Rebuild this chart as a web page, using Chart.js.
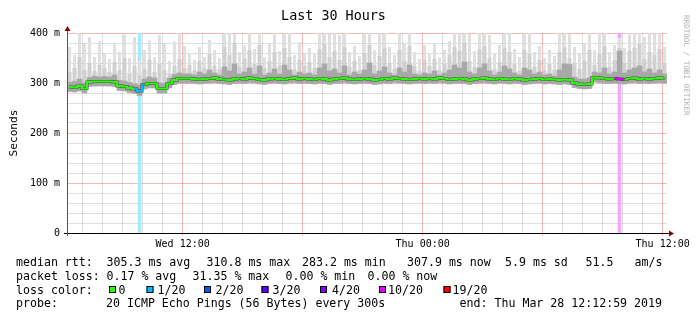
<!DOCTYPE html>
<html>
<head>
<meta charset="utf-8">
<script src="https://cdn.jsdelivr.net/npm/chart.js@4.4.1/dist/chart.umd.min.js"></script>
<style>
    html, body { margin: 0; padding: 0; background: #ffffff; }
    canvas { display: block; }
</style>
</head>
<body>
<canvas id="ChartCanvas" width="697" height="321"></canvas>
<script>
// 15 minute bins over the last 30 hours, first bin starts Wed 06:12:59 (hours since Wed 00:00)
const startHour = 6 + 12.98 / 60;
const binStep   = 0.25;

// median rtt in ms
const median = [
    292, 291, 294, 289, 302, 303, 303, 303, 303, 302, 294, 293, 290, 288, 284, 297, 299, 299, 289, 289, 299, 306, 309, 309,
    309, 308, 307, 308, 309, 310, 308, 307, 306, 308, 309, 308, 310, 309, 307, 306, 308, 309, 308, 307, 309, 310, 308, 309,
    308, 307, 309, 308, 306, 308, 309, 310, 308, 307, 308, 309, 308, 306, 307, 309, 308, 310, 309, 308, 307, 308, 309, 308,
    309, 308, 310, 309, 307, 308, 309, 308, 306, 308, 309, 310, 308, 307, 309, 308, 307, 309, 308, 306, 307, 308, 309, 307,
    308, 307, 306, 307, 306, 300, 298, 297, 298, 311, 310, 309, 308, 309, 308, 307, 309, 310, 308, 309, 308, 309, 310, 309
];

// bottom edge of the smoke
const smokeMin = [
    283, 282, 284, 280, 293, 294, 294, 294, 294, 293, 285, 284, 281, 279, 275, 288, 290, 290, 280, 280, 290, 297, 300, 300,
    300, 299, 298, 299, 300, 301, 299, 298, 297, 299, 300, 299, 301, 300, 298, 297, 299, 300, 299, 298, 300, 301, 299, 300,
    299, 298, 300, 299, 297, 299, 300, 301, 299, 298, 299, 300, 299, 297, 298, 300, 299, 301, 300, 299, 298, 299, 300, 299,
    300, 299, 301, 300, 298, 299, 300, 299, 297, 299, 300, 301, 299, 298, 300, 299, 298, 300, 299, 297, 298, 299, 300, 298,
    299, 298, 297, 298, 297, 291, 289, 288, 289, 302, 301, 300, 299, 300, 299, 298, 300, 301, 299, 300, 299, 300, 301, 300
];

// top of the dark smoke right above the median
const smokeDark = [
    301, 303, 308, 300, 311, 314, 312, 313, 312, 316, 305, 304, 301, 298, 296, 308, 312, 310, 300, 299, 310, 317, 320, 318,
    318, 316, 322, 318, 326, 320, 316, 332, 324, 338, 318, 322, 330, 318, 334, 316, 320, 328, 318, 336, 326, 316, 322, 318,
    320, 316, 330, 338, 324, 328, 320, 334, 316, 322, 318, 326, 340, 318, 324, 332, 320, 316, 330, 322, 336, 318, 316, 320,
    318, 324, 316, 320, 326, 336, 330, 342, 322, 318, 330, 338, 324, 316, 322, 334, 328, 320, 316, 330, 326, 318, 322, 316,
    318, 314, 326, 338, 337, 312, 308, 308, 310, 322, 320, 330, 318, 322, 364, 320, 326, 330, 334, 322, 328, 320, 326, 318
];

// top of the mid grey smoke
const smokeUpper = [
    322, 330, 352, 326, 340, 324, 336, 330, 322, 342, 326, 350, 318, 334, 316, 328, 346, 322, 338, 326, 318, 334, 348, 330,
    336, 326, 344, 330, 358, 334, 328, 372, 356, 380, 332, 348, 366, 338, 376, 330, 344, 362, 334, 370, 352, 328, 346, 334,
    342, 330, 368, 378, 352, 364, 346, 372, 332, 344, 326, 360, 376, 336, 354, 370, 340, 328, 366, 344, 374, 334, 324, 346,
    334, 348, 326, 338, 356, 372, 364, 380, 344, 332, 368, 374, 350, 328, 342, 370, 362, 338, 324, 366, 358, 332, 346, 326,
    338, 326, 362, 372, 350, 340, 328, 344, 366, 336, 358, 374, 332, 346, 370, 340, 364, 370, 378, 348, 362, 356, 368, 340
];

// top of the light smoke (slowest pings)
const smokeMax = [
    372, 356, 400, 380, 392, 352, 384, 360, 348, 381, 362, 397, 350, 392, 345, 366, 385, 352, 396, 378, 344, 383, 400, 374,
    358, 346, 372, 352, 386, 366, 350, 400, 400, 398, 362, 375, 400, 368, 400, 352, 378, 400, 364, 400, 400, 356, 382, 360,
    370, 358, 400, 400, 398, 400, 396, 400, 362, 374, 354, 400, 400, 366, 400, 400, 372, 356, 400, 380, 400, 362, 348, 376,
    360, 378, 352, 366, 384, 400, 400, 400, 398, 364, 400, 400, 396, 358, 376, 400, 400, 368, 352, 400, 400, 362, 374, 350,
    366, 354, 400, 400, 398, 372, 358, 380, 400, 366, 400, 400, 362, 376, 390, 370, 400, 400, 400, 392, 400, 398, 400, 372
];

// bins with lost pings (out of 20)
const lossBins   = [14, 110];
const lossCounts = [1, 10];

const lossSteps  = [0, 1, 2, 3, 4, 10, 19];
const lossLabels = ['0', '1/20', '2/20', '3/20', '4/20', '10/20', '19/20'];
const lossColors = ['#26ff00', '#00b8ff', '#0059ff', '#5e00ff', '#7e00ff', '#dd00ff', '#ff0000'];
const lossBands  = ['#ffffff', '#a6eaff', '#a6c8ff', '#cfa6ff', '#d8a6ff', '#f3a6ff', '#ffa6a6'];

const xTickLabels = { 12: 'Wed 12:00', 24: 'Thu 00:00', 36: 'Thu 12:00' };
const yTickLabels = { 0: '0', 100: '100 m', 200: '200 m', 300: '300 m', 400: '400 m' };

const statLines = [
    [['median rtt:', 16], ['305.3 ms avg', 106.5], ['310.8 ms max', 206.5], ['283.2 ms min', 302], ['307.9 ms now', 407], ['5.9 ms sd', 505], ['51.5', 585.5], ['am/s', 634.5]],
    [['packet loss:', 16], ['0.17 % avg', 106.5], ['31.35 % max', 192.5], ['0.00 % min', 285.5], ['0.00 % now', 367.5]],
    [['loss color:', 16]],
    [['probe:', 16], ['20 ICMP Echo Pings (56 Bytes) every 300s', 106]]
];
const statBaselines = [266, 280, 293.5, 307.3];
const lossBoxX  = [109, 146.5, 204, 261.5, 320, 379, 443.5];
const lossTextX = [118.5, 157.5, 215.5, 272.5, 332, 388, 452.5];
const endText = 'end: Thu Mar 28 12:12:59 2019';

const MONO = 'DejaVu Sans Mono';

Initialize();

function Initialize()
{
    const ctx = document.getElementById('ChartCanvas').getContext('2d');

    const binHours = median.map((_, i) => startHour + (i + 0.5) * binStep);
    const lossAt   = i => { const k = lossBins.indexOf(i); return k < 0 ? 0 : lossCounts[k]; };
    const stepOf   = n => { let s = 0; lossSteps.forEach((v, k) => { if (n >= v) s = k; }); return s; };

    // one floating bar per bin, from the bottom of the smoke up to 'top'
    const smoke = (top, color, order, width) => ({
        type: 'bar',
        data: binHours.map((h, i) => ({ x: h, y: [smokeMin[i], top[i]] })),
        backgroundColor: color,
        borderWidth: 0,
        grouped: false,
        barPercentage: width,
        categoryPercentage: 1,
        order: order
    });

    const medianPoints = binHours.map((h, i) => ({ x: h, y: median[i] }));

    const decorations =
    {
        id: 'decorations',
        afterDraw(chart)
        {
            const c = chart.ctx;
            const area = chart.chartArea;
            c.save();

            // axis lines with the little arrows
            c.strokeStyle = '#000000';
            c.lineWidth = 1;
            c.beginPath();
            c.moveTo(64, area.bottom + 0.5);
            c.lineTo(670, area.bottom + 0.5);
            c.stroke();
            c.strokeStyle = '#555555';
            c.beginPath();
            c.moveTo(area.left + 0.5, area.bottom + 3);
            c.lineTo(area.left + 0.5, area.top - 4);
            c.stroke();
            c.fillStyle = '#880000';
            c.beginPath();
            c.moveTo(area.left + 0.5, area.top - 7);
            c.lineTo(area.left - 2.5, area.top - 2);
            c.lineTo(area.left + 3.5, area.top - 2);
            c.closePath();
            c.fill();
            c.beginPath();
            c.moveTo(674, area.bottom + 0.5);
            c.lineTo(669, area.bottom - 2.5);
            c.lineTo(669, area.bottom + 3.5);
            c.closePath();
            c.fill();

            // statistics below the graph
            c.fillStyle = '#000000';
            c.font = '11.6px "' + MONO + '"';
            c.textBaseline = 'alphabetic';
            c.textAlign = 'left';
            statLines.forEach((line, r) => line.forEach(([t, x]) => c.fillText(t, x, statBaselines[r])));

            lossLabels.forEach((label, k) =>
            {
                c.fillStyle = lossColors[k];
                c.fillRect(lossBoxX[k], 286, 7, 7);
                c.strokeStyle = '#000000';
                c.strokeRect(lossBoxX[k] + 0.5, 286.5, 6, 6);
                c.fillStyle = '#000000';
                c.fillText(label, lossTextX[k], statBaselines[2]);
            });

            c.textAlign = 'right';
            c.fillText(endText, 662, statBaselines[3]);

            // rrdtool watermark
            c.translate(686, 15);
            c.rotate(Math.PI / 2);
            c.fillStyle = '#b0b0b0';
            c.font = '7.6px "' + MONO + '"';
            c.textAlign = 'left';
            c.textBaseline = 'middle';
            c.fillText('RRDTOOL / TOBI OETIKER', 0, 0);

            c.restore();
        }
    };

    const chart = new Chart(ctx,
    {
        type: 'bar',
        data:
        {
            datasets:
            [
                {
                    type: 'line',
                    label: 'median',
                    data: medianPoints,
                    borderWidth: 2,
                    pointRadius: 0,
                    stepped: 'middle',
                    fill: false,
                    borderColor: lossColors[0],
                    segment:
                    {
                        borderColor: s => lossColors[stepOf(Math.max(lossAt(s.p0DataIndex), lossAt(s.p1DataIndex)))]
                    },
                    order: 0
                },
                {
                    type: 'line',
                    label: 'shadow',
                    data: medianPoints,
                    borderWidth: 3,
                    pointRadius: 0,
                    stepped: 'middle',
                    fill: false,
                    borderColor: '#4a4a4a',
                    order: 1
                },
                smoke(smokeDark, '#a8a8a8', 2, 1),
                smoke(smokeUpper, '#d0d0d0', 3, 0.8),
                smoke(smokeMax, '#e0e0e0', 4, 0.6),
                {
                    type: 'bar',
                    label: 'loss',
                    data: binHours.map((h, i) => ({ x: h, y: lossAt(i) > 0 ? [0, 400] : null })),
                    backgroundColor: c => lossBands[stepOf(lossAt(c.dataIndex))],
                    borderWidth: 0,
                    grouped: false,
                    barThickness: 3,
                    order: 5
                }
            ]
        },
        options:
        {
            responsive: false,
            animation: false,
            devicePixelRatio: 1,
            layout: { padding: { left: 0, right: 30, top: 0, bottom: 0 } },
            plugins:
            {
                legend: { display: false },
                tooltip: { enabled: false },
                title:
                {
                    display: true,
                    text: 'Last 30 Hours',
                    color: '#000000',
                    font: { family: MONO, size: 13.4, weight: 'normal' },
                    padding: { top: 8, bottom: 33 - 8 - 13.4 * 1.2 }
                }
            },
            scales:
            {
                x:
                {
                    type: 'linear',
                    offset: false,
                    min: startHour,
                    max: startHour + 30,
                    afterBuildTicks: scale => { scale.ticks = Array.from({ length: 30 }, (_, i) => ({ value: 7 + i })); },
                    afterFit: scale => { scale.height = 88; },
                    border: { display: false },
                    grid:
                    {
                        offset: false,
                        color: c => c.tick && c.tick.value % 6 === 0 ? 'rgba(235, 70, 70, 0.38)' : 'rgba(0, 0, 0, 0.12)',
                        tickColor: c => c.tick && c.tick.value % 6 === 0 ? 'rgba(235, 70, 70, 0.38)' : 'rgba(0, 0, 0, 0)',
                        tickLength: 3
                    },
                    ticks:
                    {
                        autoSkip: false,
                        maxRotation: 0,
                        padding: 2.5,
                        color: '#000000',
                        font: { family: MONO, size: 10 },
                        callback: v => xTickLabels[v] || ''
                    }
                },
                y:
                {
                    min: 0,
                    max: 400,
                    afterFit: scale => { scale.width = 67; },
                    border: { display: false },
                    grid:
                    {
                        color: c => c.tick && c.tick.value % 100 === 0 ? 'rgba(235, 70, 70, 0.38)' : 'rgba(0, 0, 0, 0.12)',
                        drawTicks: false
                    },
                    ticks:
                    {
                        stepSize: 20,
                        autoSkip: false,
                        padding: 7,
                        color: '#000000',
                        font: { family: MONO, size: 10 },
                        callback: v => yTickLabels[v] || ''
                    },
                    title:
                    {
                        display: true,
                        text: 'Seconds',
                        color: '#000000',
                        font: { family: MONO, size: 11.2 },
                        padding: { top: 7.5, bottom: 0 }
                    }
                }
            }
        },
        plugins: [decorations]
    });
}
</script>
</body>
</html>
